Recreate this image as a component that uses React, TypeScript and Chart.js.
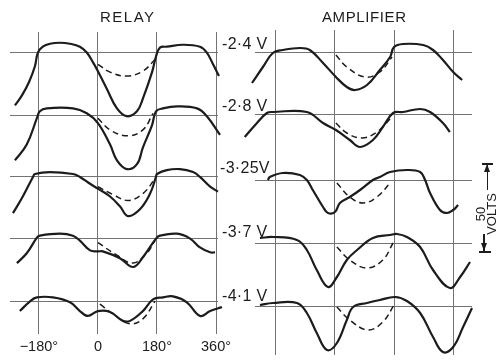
import React, { useEffect, useRef } from "react";
import { Chart, registerables } from "chart.js";

Chart.register(...registerables);

// Phase axis (degrees)
const DEGREE_TICKS = [-180, 0, 180, 360];
const DEGREE_TICK_LABELS = ["−180°", "0", "180°", "360°"];

// Grid-bias labels, one per trace row
const BIAS_LABELS = ["-2·4 V", "-2·8 V", "-3·25V", "-3·7 V", "-4·1 V"];

// Baseline level of each trace row (deflection units)
const RELAY_LEVELS = [0, -64, -127, -190, -254];
const AMP_LEVELS = [0, -63, -128, -191, -254];

type P = [number, number];

// ---------------- RELAY: [phase°, deflection] ----------------
const relay1Solid: P[] = [[-253, -54], [-232, -44], [-210, -30], [-192, -14], [-183, 0], [-168, 6], [-146, 9], [-116, 10], [-85, 9], [-55, 6], [-34, 0], [-15, -10], [0, -19], [27, -37], [58, -57], [88, -65], [119, -60], [137, -47], [165, -20], [177, -4], [189, 5], [210, 6], [259, 8], [311, 6], [332, 0], [351, -12], [369, -24]];
const relay1Dash: P[] = [[0, -12], [37, -20], [88, -24], [137, -19], [174, -7]];

const relay2Solid: P[] = [[-253, -46], [-217, -30], [-186, -3], [-177, 4], [-156, 7], [-76, 7], [-34, 2], [0, -8], [37, -30], [58, -46], [88, -55], [119, -50], [137, -33], [165, -10], [177, 4], [198, 7], [241, 9], [302, 7], [332, -1], [372, -20]];
const relay2Dash: P[] = [[0, -3], [37, -15], [91, -21], [137, -15], [168, 2]];

const relay3Solid: P[] = [[-259, -37], [-229, -20], [-198, 0], [-192, 3], [-146, 5], [-76, 3], [-55, 0], [-24, -7], [0, -12], [37, -20], [67, -30], [92, -40], [128, -33], [159, -17], [177, 0], [180, 3], [210, 7], [250, 8], [290, 5], [311, 0], [342, -10], [366, -15]];
const relay3Dash: P[] = [[0, -10], [46, -18], [92, -24], [137, -17], [174, -2]];

const relay4Solid: P[] = [[-247, -25], [-217, -15], [-186, 1], [-177, 3], [-116, 5], [-76, 3], [-55, -2], [-24, -12], [0, -13], [15, -13], [67, -20], [107, -29], [137, -19], [177, 0], [189, 3], [241, 5], [281, 0], [311, -9], [342, -14], [357, -14]];
const relay4Dash: P[] = [[0, -4], [58, -17], [107, -25], [149, -15], [174, -2]];

const relay5Solid: P[] = [[-238, -10], [-207, 0], [-186, 4], [-137, 4], [-85, -1], [-55, -10], [-31, -15], [0, -10], [37, -11], [76, -20], [98, -20], [137, -10], [168, 2], [198, 4], [229, 5], [271, -1], [311, -15], [342, -10], [378, -6]];
const relay5Dash: P[] = [[6, -3], [46, -13], [98, -23], [137, -18], [174, 0]];

// ---------------- AMPLIFIER: [phase°, deflection] ----------------
const amp1Solid: P[] = [[-251, -31], [-218, -15], [-188, -1], [-158, 2], [-106, 4], [-76, 2], [-36, -11], [3, -25], [36, -35], [61, -38], [97, -33], [136, -18], [167, -5], [179, 5], [206, 8], [267, 7], [297, 2], [327, -8], [358, -20], [385, -28]];
const amp1Dash: P[] = [[3, -3], [36, -15], [91, -25], [136, -20], [173, -5]];

const amp2Solid: P[] = [[-273, -22], [-236, -8], [-206, 2], [-188, 3], [-85, 3], [-36, -8], [3, -15], [45, -25], [76, -32], [115, -25], [145, -12], [176, 2], [206, 3], [258, 6], [288, 3], [327, -8], [348, -17]];
const amp2Dash: P[] = [[3, -8], [36, -18], [82, -23], [127, -17], [173, -2]];

const amp3Solid: P[] = [[-203, 0], [-197, 3], [-158, 7], [-106, 5], [-85, 0], [-67, -10], [-36, -27], [-21, -33], [0, -32], [15, -23], [45, -17], [76, -10], [115, 0], [136, 3], [167, 8], [218, 10], [258, 8], [273, 0], [288, -13], [318, -30], [339, -33], [358, -30], [373, -25]];
const amp3Dash: P[] = [[6, -3], [45, -17], [85, -23], [127, -17], [167, -3]];

const amp4Solid: P[] = [[-227, 5], [-188, 6], [-115, 3], [-85, -7], [-55, -27], [-21, -44], [6, -34], [36, -17], [67, -7], [115, 5], [167, 8], [188, 9], [218, 6], [258, -4], [297, -27], [348, -45], [379, -34], [409, -19]];
const amp4Dash: P[] = [[6, -4], [45, -17], [97, -25], [145, -17], [176, 0]];

const amp5Solid: P[] = [[-227, 1], [-188, 3], [-115, 3], [-85, -7], [-55, -27], [-24, -44], [6, -37], [36, -14], [55, -1], [97, 3], [136, 6], [182, 9], [218, 5], [258, -7], [297, -31], [327, -46], [358, -41], [388, -21], [415, -2]];
const amp5Dash: P[] = [[6, -1], [45, -14], [100, -24], [145, -16], [179, 1]];

const RELAY_SOLID = [relay1Solid, relay2Solid, relay3Solid, relay4Solid, relay5Solid];
const RELAY_DASH = [relay1Dash, relay2Dash, relay3Dash, relay4Dash, relay5Dash];
const AMP_SOLID = [amp1Solid, amp2Solid, amp3Solid, amp4Solid, amp5Solid];
const AMP_DASH = [amp1Dash, amp2Dash, amp3Dash, amp4Dash, amp5Dash];

const INK = "#1c1c1c";
const GRID = "#737373";
const FONT = "'Liberation Sans', Arial, Helvetica, sans-serif";

function buildDatasets(levels: number[], solids: P[][], dashes: P[][]) {
  const ds: any[] = [];
  levels.forEach((lvl, i) => {
    ds.push({
      data: solids[i].map(([x, y]) => ({ x, y: lvl + y })),
      borderColor: INK,
      borderWidth: 2.2,
      tension: 0.4,
      pointRadius: 0,
      fill: false,
      clip: false,
    });
    ds.push({
      data: dashes[i].map(([x, y]) => ({ x, y: lvl + y })),
      borderColor: INK,
      borderWidth: 1.5,
      borderDash: [6, 4],
      tension: 0.4,
      pointRadius: 0,
      fill: false,
      clip: false,
    });
  });
  return ds;
}

interface PanelCfg {
  levels: number[];
  solids: P[][];
  dashes: P[][];
  xMin: number;
  xMax: number;
  yMin: number;
  yMax: number;
  padding: { left: number; right: number; top: number; bottom: number };
  showLabels: boolean;
}

function Panel({ cfg }: { cfg: PanelCfg }) {
  const ref = useRef<HTMLCanvasElement | null>(null);
  useEffect(() => {
    if (!ref.current) return;
    const chart = new Chart(ref.current, {
      type: "line",
      data: { datasets: buildDatasets(cfg.levels, cfg.solids, cfg.dashes) },
      options: {
        animation: false,
        responsive: false,
        maintainAspectRatio: false,
        layout: { padding: cfg.padding },
        plugins: { legend: { display: false }, tooltip: { enabled: false } },
        scales: {
          x: {
            type: "linear",
            min: cfg.xMin,
            max: cfg.xMax,
            afterBuildTicks: (s: any) => {
              s.ticks = DEGREE_TICKS.map((v) => ({ value: v }));
            },
            grid: { color: GRID, lineWidth: 1, drawTicks: false },
            border: { display: false },
            ticks: {
              display: cfg.showLabels,
              autoSkip: false,
              maxRotation: 0,
              padding: 5,
              color: INK,
              font: { family: FONT, size: 14.5 },
              callback: (v: any) => DEGREE_TICK_LABELS[DEGREE_TICKS.indexOf(Number(v))] ?? "",
            },
          },
          y: {
            type: "linear",
            min: cfg.yMin,
            max: cfg.yMax,
            afterBuildTicks: (s: any) => {
              s.ticks = cfg.levels.map((v) => ({ value: v }));
            },
            grid: { color: GRID, lineWidth: 1, drawTicks: false },
            border: { display: false },
            ticks: { display: false },
          },
        },
      } as any,
    });
    return () => chart.destroy();
  }, [cfg]);
  return (
    <canvas
      ref={ref}
      width={498}
      height={361}
      style={{ position: "absolute", left: 0, top: 0, width: 498, height: 361 }}
    />
  );
}

const relayCfg: PanelCfg = {
  levels: RELAY_LEVELS,
  solids: RELAY_SOLID,
  dashes: RELAY_DASH,
  xMin: -268,
  xMax: 366,
  yMin: -287,
  yMax: 21,
  padding: { left: 10, right: 280, top: 32, bottom: 0 },
  showLabels: true,
};

const ampCfg: PanelCfg = {
  levels: AMP_LEVELS,
  solids: AMP_SOLID,
  dashes: AMP_DASH,
  xMin: -242,
  xMax: 415,
  yMin: -303,
  yMax: 22,
  padding: { left: 255, right: 26, top: 30, bottom: 6 },
  showLabels: false,
};

const BIAS_Y = [44, 106, 168, 232, 296];

export default function App() {
  const text: React.CSSProperties = {
    position: "absolute",
    fontFamily: FONT,
    color: INK,
    whiteSpace: "nowrap",
    lineHeight: 1,
  };
  return (
    <div style={{ position: "absolute", left: 0, top: 0, width: 498, height: 361, background: "#fff", overflow: "hidden" }}>
      <Panel cfg={relayCfg} />
      <Panel cfg={ampCfg} />
      <div style={{ ...text, left: 100, top: 9, fontSize: 15, letterSpacing: 1.5 }}>RELAY</div>
      <div style={{ ...text, left: 322, top: 9, fontSize: 15, letterSpacing: 0.6 }}>AMPLIFIER</div>
      {BIAS_LABELS.map((t, i) => (
        <div key={t} style={{ ...text, left: i === 2 ? 220 : 222, top: BIAS_Y[i] - 8, fontSize: 16, letterSpacing: 0.3 }}>
          {t}
        </div>
      ))}
      {/* 50 volts scale marker */}
      <div style={{ position: "absolute", left: 482, top: 163, width: 11, height: 1.5, background: INK }} />
      <div style={{ position: "absolute", left: 486.5, top: 164, width: 1.5, height: 26, background: INK }} />
      <div style={{ position: "absolute", left: 484, top: 164, width: 0, height: 0, borderLeft: "3px solid transparent", borderRight: "3px solid transparent", borderBottom: "8px solid " + INK }} />
      <div style={{ position: "absolute", left: 483, top: 234, width: 1.5, height: 18, background: INK }} />
      <div style={{ position: "absolute", left: 480.5, top: 243, width: 0, height: 0, borderLeft: "3px solid transparent", borderRight: "3px solid transparent", borderTop: "8px solid " + INK }} />
      <div style={{ position: "absolute", left: 479, top: 251, width: 12, height: 1.5, background: INK }} />
      <div
        style={{
          ...text,
          left: 486,
          top: 214,
          fontSize: 13,
          lineHeight: "11px",
          textAlign: "center",
          transform: "translate(-50%, -50%) rotate(-90deg)",
        }}
      >
        50
        <br />
        VOLTS
      </div>
    </div>
  );
}
